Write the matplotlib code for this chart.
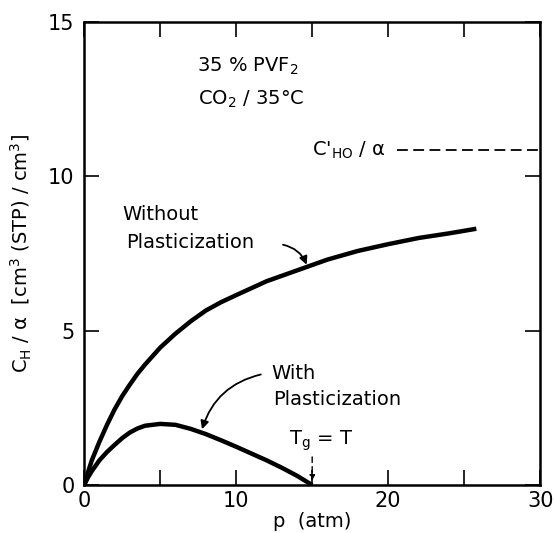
import numpy as np
import matplotlib
matplotlib.use('Agg')
import matplotlib.pyplot as plt

plt.rcParams['font.family'] = 'DejaVu Sans'
plt.rcParams['mathtext.default'] = 'regular'

# values
p_without = [0, 0.25, 0.5, 1, 1.5, 2, 2.5, 3, 3.5, 4, 5, 6, 7, 8, 9, 10, 12, 14, 16, 18, 20, 22, 24, 25.8]
c_without = [0, 0.42, 0.8, 1.4, 1.95, 2.45, 2.88, 3.25, 3.6, 3.9, 4.45, 4.9, 5.3, 5.65, 5.92, 6.15, 6.6, 6.95, 7.3, 7.58, 7.8, 8.0, 8.15, 8.3]
p_with = [0, 0.25, 0.5, 1, 1.5, 2, 2.5, 3, 3.5, 4, 5, 6, 7, 8, 9, 10, 11, 12, 13, 14, 15]
c_with = [0, 0.25, 0.45, 0.8, 1.07, 1.3, 1.52, 1.7, 1.83, 1.92, 1.98, 1.95, 1.82, 1.65, 1.45, 1.24, 1.02, 0.8, 0.56, 0.3, 0]
c_ho = 10.85
p_tg = 15

fig = plt.figure(figsize=(5.54, 5.33), dpi=100)
ax = fig.add_axes([0.152, 0.09, 0.823, 0.869])

ax.plot(p_without, c_without, color='black', lw=3.2, solid_capstyle='butt')
ax.plot(p_with, c_with, color='black', lw=3.2, solid_capstyle='butt')
ax.plot([20.6, 30], [c_ho, c_ho], color='black', lw=1.3, ls=(0, (6, 3)))

ax.set_xlim(0, 30)
ax.set_ylim(0, 15)
ax.set_xticks([0, 5, 10, 15, 20, 25, 30])
ax.set_xticklabels(['0', '', '10', '', '20', '', '30'])
ax.set_yticks([0, 5, 10, 15])
ax.tick_params(direction='in', length=11, width=1.2, top=True, right=True,
               labelsize=15, pad=7)
ax.tick_params(axis='x', pad=4)
for s in ax.spines.values():
    s.set_linewidth(1.8)

ax.set_xlabel('p  (atm)', fontsize=14, labelpad=1)
ax.set_ylabel(r'C$_H$ / $\alpha$  [cm$^3$ (STP) / cm$^3$]', fontsize=14, labelpad=10)

ax.text(7.4, 13.55, r'35 % PVF$_2$', fontsize=14, va='center')
ax.text(7.5, 12.5, r'CO$_2$ / 35°C', fontsize=14, va='center')
ax.text(15.0, 10.85, r"C$'_{HO}$ / $\alpha$", fontsize=14, va='center')

ax.text(2.5, 8.76, 'Without', fontsize=14, va='center')
ax.text(2.75, 7.85, 'Plasticization', fontsize=14, va='center')
ax.annotate('', xy=(14.7, 7.05), xytext=(12.9, 7.8),
            arrowprops=dict(arrowstyle='-|>', color='black', lw=1.3,
                            connectionstyle='arc3,rad=-0.3', mutation_scale=12))

ax.text(12.3, 3.6, 'With', fontsize=14, va='center')
ax.text(12.4, 2.77, 'Plasticization', fontsize=14, va='center')
ax.annotate('', xy=(7.7, 1.72), xytext=(11.8, 3.6),
            arrowprops=dict(arrowstyle='-|>', color='black', lw=1.3,
                            connectionstyle='arc3,rad=0.3', mutation_scale=12))

ax.text(13.5, 1.45, r'T$_g$ = T', fontsize=14, va='center')
ax.annotate('', xy=(p_tg, 0.05), xytext=(p_tg, 1.0),
            arrowprops=dict(arrowstyle='-|>', color='black', lw=1.0,
                            linestyle=(0, (4, 3)), mutation_scale=8))

fig.savefig('out.png', dpi=100)
